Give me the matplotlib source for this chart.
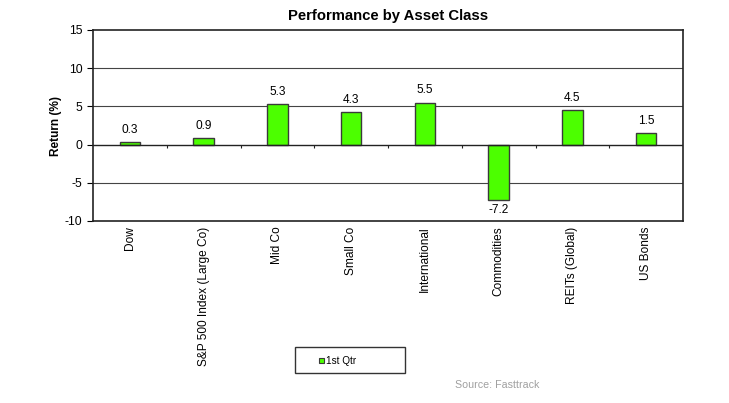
import matplotlib.pyplot as plt
import numpy as np
from matplotlib.patches import Rectangle

plt.rcParams['font.family'] = ['Liberation Sans', 'DejaVu Sans']
plt.rcParams['axes.unicode_minus'] = False

# Chart data
categories = ['Dow', 'S&P 500 Index (Large Co)', 'Mid Co', 'Small Co',
              'International', 'Commodities', 'REITs (Global)', 'US Bonds']
returns = [0.3, 0.9, 5.3, 4.3, 5.5, -7.2, 4.5, 1.5]
y_ticks = [-10, -5, 0, 5, 10, 15]

fig = plt.figure(figsize=(7.29, 4.03), dpi=100)
ax = fig.add_axes([93 / 729, 1 - 221 / 403, 590 / 729, 191 / 403])

x = np.arange(len(categories))
ax.bar(x, returns, width=0.28, color='#4cff00', edgecolor='#3a3a3a',
       linewidth=1.0, zorder=3, label='1st Qtr')

# value labels
for xi, v in zip(x, returns):
    if v >= 0:
        ax.text(xi, v + 0.8, f'{v}', ha='center', va='bottom', fontsize=8.6)
    else:
        ax.text(xi, v - 0.6, f'{v}', ha='center', va='top', fontsize=8.6)

ax.set_xlim(-0.5, len(categories) - 0.5)
ax.set_ylim(-10, 15)
ax.set_yticks(y_ticks)
ax.set_yticklabels([str(t) for t in y_ticks])
ax.tick_params(axis='y', labelsize=8.8, length=4, width=0.8, direction='out')
for g in [-5, 5, 10]:
    ax.axhline(g, color='#444444', linewidth=0.8, zorder=1)
ax.axhline(0, color='#222222', linewidth=1.0, zorder=4)

# ticks between categories on the zero line
ax.vlines(np.arange(0.5, len(categories) - 0.5, 1), -0.5, 0,
          color='#222222', linewidth=0.8, zorder=4)

ax.set_xticks(x)
ax.set_xticklabels(categories, rotation=90, fontsize=8.6, va='top')
ax.tick_params(axis='x', length=0, pad=4)

for s in ax.spines.values():
    s.set_linewidth(1.2)
    s.set_color('#222222')

ax.set_ylabel('Return (%)', fontsize=8.6, fontweight='bold', labelpad=2)
ax.set_title('Performance by Asset Class', fontsize=10.7, fontweight='bold', pad=7)

# legend box
fig.patches.append(Rectangle((295 / 729, 1 - 373 / 403), 110 / 729, 26 / 403,
                             transform=fig.transFigure, facecolor='white',
                             edgecolor='#333333', linewidth=1.0))
fig.patches.append(Rectangle((319 / 729, 1 - 363 / 403), 5 / 729, 5 / 403,
                             transform=fig.transFigure, facecolor='#4cff00',
                             edgecolor='#3a3a3a', linewidth=0.8))
fig.text(326 / 729, 1 - 361 / 403, '1st Qtr', fontsize=7.2, va='center', ha='left')

fig.text(455 / 729, 1 - 385 / 403, 'Source: Fasttrack', fontsize=7.7,
         color='#a0a0a0', va='center', ha='left')

fig.savefig('out.png', dpi=100)
